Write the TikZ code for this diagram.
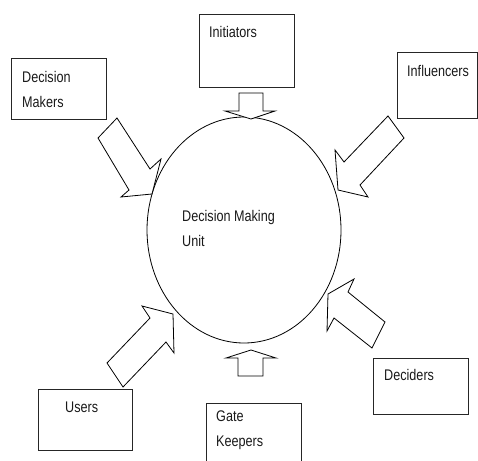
\documentclass[tikz,border=0pt]{standalone}
\usepackage{fontspec}
\setmainfont{Liberation Sans}[FakeStretch=0.82]
\usetikzlibrary{shapes.geometric}
\begin{document}
\begin{tikzpicture}[x=1pt,y=-1pt,
  box/.style={draw=black!85, line width=0.9pt, inner sep=0pt, anchor=north west},
  lbl/.style={anchor=north west, inner sep=0pt, align=left, text=black!90,
              font=\fontsize{15.4}{25}\selectfont},
  blk/.style={draw, line width=0.8pt, line join=miter, fill=white}]
\useasboundingbox (0,0) rectangle (478,460);

% central unit
\node[draw, line width=0.8pt, ellipse, minimum width=194pt, minimum height=226pt, inner sep=0pt] (dmu) at (244,230) {};
\node[lbl] (dmut) at (182,210) {Decision Making\\Unit};

% boxes
\node[box, minimum width=95pt, minimum height=61pt] (dm) at (11,58) {};
\node[lbl] (dmt) at (22,71) {Decision\\Makers};

\node[box, minimum width=95pt, minimum height=73pt] (ini) at (199,14) {};
\node[lbl] (init) at (209,26) {Initiators};

\node[box, minimum width=80pt, minimum height=66pt] (inf) at (397,52) {};
\node[lbl] (inft) at (407,65) {Influencers};

\node[box, minimum width=94pt, minimum height=61pt] (us) at (38,389) {};
\node[lbl] (ust) at (65,402) {Users};

\node[box, minimum width=95pt, minimum height=70pt] (gk) at (206,403) {};
\node[lbl] (gkt) at (216,411) {Gate\\Keepers};

\node[box, minimum width=95pt, minimum height=56pt] (de) at (373,358) {};
\node[lbl] (det) at (384,369) {Deciders};

% block arrows
% Initiators (down)
\draw[blk] (239,93) -- (263,93) -- (263,111) -- (275,111) -- (251,119) -- (225,111) -- (239,111) -- cycle;
% Gate Keepers (up)
\draw[blk] (238,376) -- (263,376) -- (263,358) -- (276,358) -- (251,350) -- (226,358) -- (238,358) -- cycle;
% Decision Makers
\draw[blk] (117,118) -- (150,169) -- (161,159) -- (152,194) -- (121,197) -- (129,190) -- (98,138) -- cycle;
% Influencers
\draw[blk] (388,116) -- (404,138) -- (360,185) -- (368,197) -- (338,190) -- (335,150) -- (344,162) -- cycle;
% Users
\draw[blk] (107,363) -- (123,387) -- (166,342) -- (174,353) -- (173,314) -- (142,306) -- (150,318) -- cycle;
% Deciders
\draw[blk] (385,322) -- (372,348) -- (334,318) -- (327,331) -- (328,294) -- (354,279) -- (348,292) -- cycle;
\end{tikzpicture}
\end{document}
